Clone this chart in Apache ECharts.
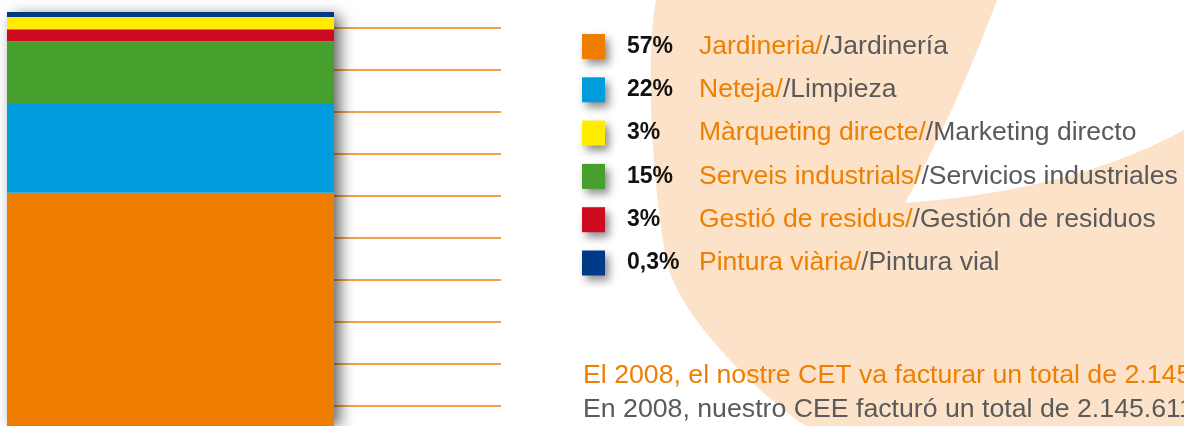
<!DOCTYPE html>
<html>
<head>
<meta charset="utf-8">
<script src="https://cdn.jsdelivr.net/npm/echarts@6/dist/echarts.min.js"></script>
<style>
  html, body { margin: 0; padding: 0; background: #fff; }
  #chart { width: 1184px; height: 426px; }
</style>
</head>
<body>
<div id="chart"></div>
<script>
// activitats del CET (2008)
var namesCa = ['Jardineria', 'Neteja', 'Màrqueting directe', 'Serveis industrials', 'Gestió de residus', 'Pintura viària'];
var namesEs = ['Jardinería', 'Limpieza', 'Marketing directo', 'Servicios industriales', 'Gestión de residuos', 'Pintura vial'];
var shares = [57, 22, 3, 15, 3, 0.3];
var colors = ['#ef7e00', '#009dde', '#ffec00', '#47a02d', '#cd0a20', '#003a86'];
// ordre d'apilament, de baix a dalt
var stackOrder = [0, 1, 3, 4, 2, 5];
var footerCa = 'El 2008, el nostre CET va facturar un total de 2.145.611';
var footerEs = 'En 2008, nuestro CEE facturó un total de 2.145.611';

var orange = '#ee7f00';
var grey = '#5a5a5a';

function pct(v) {
  return String(v).replace('.', ',') + '%';
}

// mostreja corbes de bezier per fer el fons (forma decorativa)
function quad(p0, c, p1, n, out) {
  for (var k = 1; k <= n; k++) {
    var t = k / n, u = 1 - t;
    out.push([u * u * p0[0] + 2 * u * t * c[0] + t * t * p1[0], u * u * p0[1] + 2 * u * t * c[1] + t * t * p1[1]]);
  }
}
function cubic(p0, c1, c2, p1, n, out) {
  for (var k = 1; k <= n; k++) {
    var t = k / n, u = 1 - t;
    out.push([
      u * u * u * p0[0] + 3 * u * u * t * c1[0] + 3 * u * t * t * c2[0] + t * t * t * p1[0],
      u * u * u * p0[1] + 3 * u * u * t * c1[1] + 3 * u * t * t * c2[1] + t * t * t * p1[1]
    ]);
  }
}
var blob = [[656, 0], [997, 0]];
quad([997, 0], [958, 105], [905, 203], 20, blob);
quad([905, 203], [1075, 190], [1184, 130], 20, blob);
blob.push([1184, 426], [806, 426]);
cubic([806, 426], [758, 395], [680, 316], [668, 266], 24, blob);
cubic([668, 266], [656, 216], [643, 70], [656, 0], 24, blob);

var total = shares.reduce(function (a, b) { return a + b; }, 0);

var series = [];
// barra blanca al darrere només per fer l'ombra
series.push({
  name: 'total',
  type: 'bar',
  xAxisIndex: 0,
  yAxisIndex: 0,
  data: [total],
  barWidth: 327,
  barGap: '-100%',
  clip: false,
  z: 1,
  silent: true,
  itemStyle: {
    color: '#fff',
    shadowColor: 'rgba(0,0,0,0.6)',
    shadowBlur: 14,
    shadowOffsetX: 6
  }
});
stackOrder.forEach(function (i) {
  series.push({
    name: namesCa[i],
    type: 'bar',
    stack: 'cet',
    xAxisIndex: 0,
    yAxisIndex: 0,
    data: [shares[i]],
    barWidth: 327,
    barGap: '-100%',
    barMinHeight: 5,
    clip: false,
    z: 2,
    itemStyle: { color: colors[i] }
  });
});

var option = {
  animation: false,
  backgroundColor: '#fff',
  grid: [
    { left: 7, top: 17, width: 327, height: 410 },
    { left: 7, top: 28, width: 494, height: 378 }
  ],
  xAxis: [
    { gridIndex: 0, type: 'category', data: ['2008'], show: false },
    { gridIndex: 1, type: 'value', show: false }
  ],
  yAxis: [
    { gridIndex: 0, type: 'value', min: 0, max: 100, show: false },
    {
      gridIndex: 1,
      type: 'value',
      min: 0,
      max: 9,
      interval: 1,
      axisLine: { show: false },
      axisTick: { show: false },
      axisLabel: { show: false },
      splitLine: { show: true, lineStyle: { color: '#f2a145', width: 2 } }
    }
  ],
  legend: {
    orient: 'vertical',
    left: 582,
    top: 33,
    padding: 0,
    icon: 'rect',
    itemWidth: 23,
    itemHeight: 25,
    itemGap: 16.3,
    selectedMode: false,
    data: namesCa,
    itemStyle: {
      shadowColor: 'rgba(0,0,0,0.45)',
      shadowBlur: 8,
      shadowOffsetX: 4,
      shadowOffsetY: 5
    },
    formatter: function (name) {
      var i = namesCa.indexOf(name);
      return '{p|' + pct(shares[i]) + '}{a|' + name + '/}{b|/' + namesEs[i] + '}';
    },
    textStyle: {
      rich: {
        p: {
          fontFamily: 'Liberation Sans',
          fontWeight: 'bold',
          fontSize: 23,
          color: '#111',
          width: 72,
          padding: [0, 0, 0, 17],
          lineHeight: 25
        },
        a: { fontFamily: 'Liberation Sans', fontSize: 26.5, color: orange, lineHeight: 25 },
        b: { fontFamily: 'Liberation Sans', fontSize: 26.5, color: grey, lineHeight: 25 }
      }
    }
  },
  graphic: [
    {
      type: 'polygon',
      z: 0,
      silent: true,
      shape: { points: blob },
      style: { fill: '#fce2c8' }
    },
    {
      type: 'text',
      z: 100,
      left: 583,
      top: 362,
      silent: true,
      style: { text: footerCa, fill: orange, font: '26.7px "Liberation Sans"' }
    },
    {
      type: 'text',
      z: 100,
      left: 583,
      top: 396,
      silent: true,
      style: { text: footerEs, fill: grey, font: '26.7px "Liberation Sans"' }
    }
  ],
  series: series
};

var chart = echarts.init(document.getElementById('chart'));
chart.setOption(option);

window.addEventListener('resize', function () {
  chart.resize();
});
</script>
</body>
</html>
